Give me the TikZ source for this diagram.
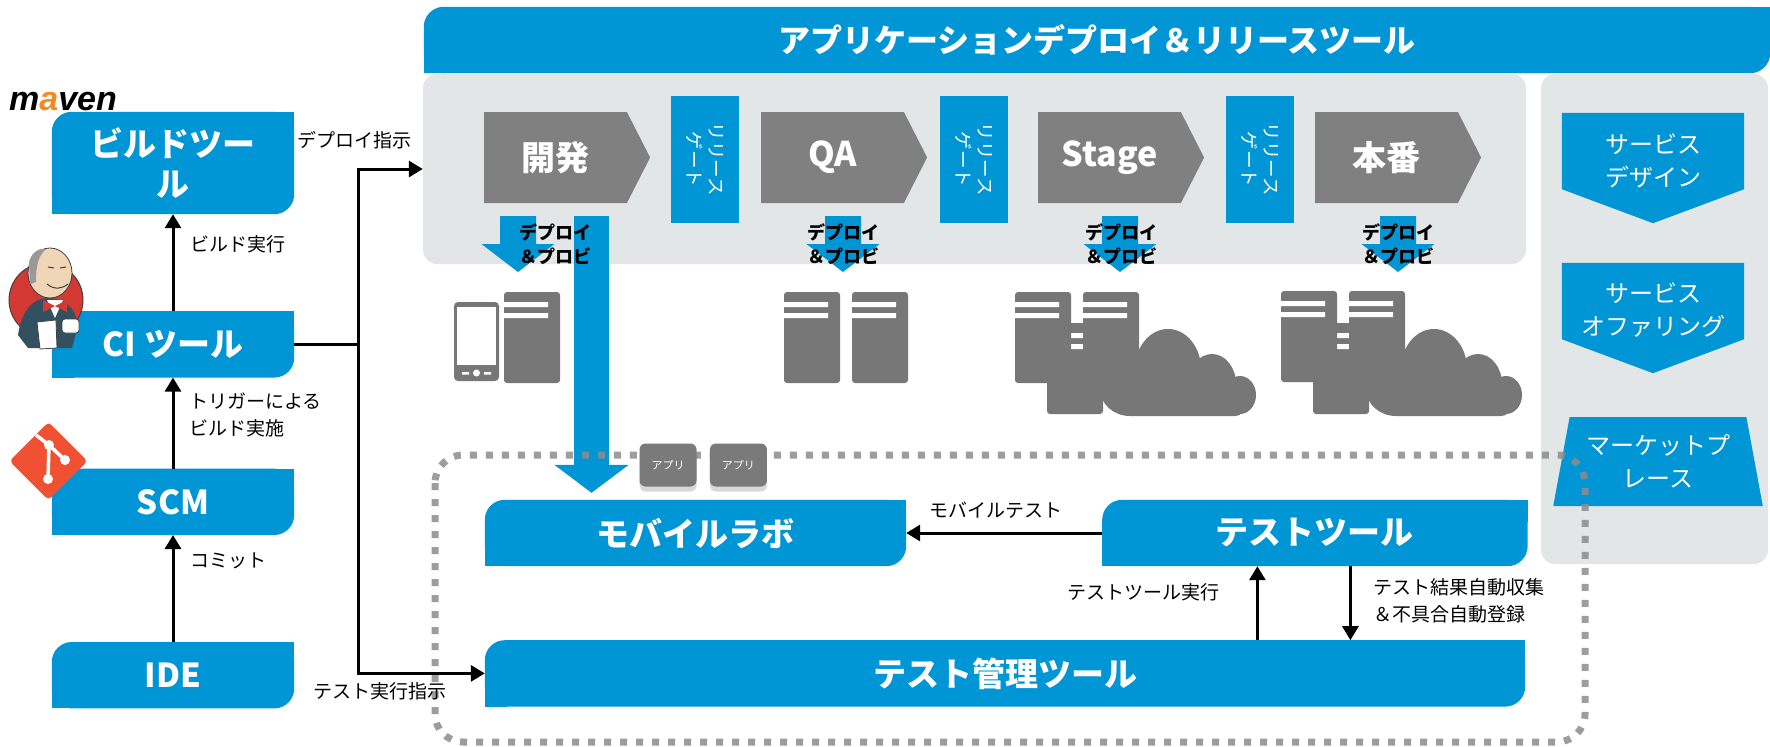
\documentclass[tikz,border=0pt]{standalone}
\usepackage{fontspec}
\setmainfont{Noto Sans CJK JP}
\newfontfamily\logofont{Liberation Sans}
\usepackage{xcolor}
\definecolor{Blue}{HTML}{0096D6}
\definecolor{Panel}{HTML}{E3E6E7}
\definecolor{StageGray}{HTML}{808080}
\definecolor{IconGray}{HTML}{777777}
\definecolor{TileGray}{HTML}{7A7A7A}
\definecolor{DotGray}{HTML}{8C8C8C}
\definecolor{MavenOrange}{HTML}{F28A1F}
\definecolor{GitOrange}{HTML}{F05133}
\definecolor{JRed}{HTML}{D33833}
\definecolor{JNavy}{HTML}{335061}
\definecolor{JSkin}{HTML}{F0D6B7}
\usepackage{tikz}
\usetikzlibrary{arrows.meta,positioning,shapes.symbols,shapes.geometric,backgrounds,shadows}

\begin{document}
\begin{tikzpicture}[x=1pt,y=-1pt,
  tag/.style={text=white,font=\bfseries\fontsize{33}{40}\selectfont,align=center,inner sep=0pt},
  tool/.style={tag,minimum width=242pt,minimum height=66pt},
  panel/.style={fill=Panel,rounded corners=14pt,inner sep=0pt},
  stage/.style={signal,signal to=east,signal from=nowhere,signal pointer angle=126,fill=StageGray,text=white,
    font=\bfseries\fontsize{34}{40}\selectfont,minimum width=166pt,minimum height=91pt,inner sep=0pt},
  gate/.style={fill=Blue,text=white,rotate=-90,align=center,font=\fontsize{18.5}{22}\selectfont,
    minimum width=127pt,minimum height=68pt,inner sep=0pt},
  svcbox/.style={minimum width=182pt,minimum height=110pt,inner sep=0pt},
  svctxt/.style={text=white,align=center,font=\fontsize{24}{33}\selectfont,inner sep=0pt},
  market/.style={trapezium,trapezium left angle=76,trapezium right angle=76,trapezium stretches=true,fill=Blue,
    text=white,align=center,font=\fontsize{24}{33}\selectfont,minimum width=210pt,minimum height=89pt,inner sep=0pt},
  deploytxt/.style={align=center,font=\bfseries\fontsize{18}{24}\selectfont,inner sep=0pt},
  apptile/.style={fill=TileGray,rounded corners=6pt,minimum width=57pt,minimum height=43pt,text=white,
    font=\fontsize{11}{13}\selectfont,drop shadow={shadow xshift=0pt,shadow yshift=-5pt,opacity=.3}},
  lbl/.style={font=\fontsize{19}{27}\selectfont,inner sep=0pt,align=left},
  arrow/.style={-{Triangle[width=16pt,length=14pt]},line width=3pt},
  bigarrow/.style={draw=Blue,line width=35pt,-{Triangle[width=73pt,length=28pt]},shorten >=7pt},
  testzone/.style={draw=DotGray,line width=7pt,dash pattern=on 7pt off 9pt,rounded corners=28pt,opacity=.85},
  deploy/.pic={\fill[Blue] (-18,0) -- (18,0) -- (18,28) -- (36.5,28) -- (0,56) -- (-36.5,28) -- (-18,28) -- cycle;},
  server/.pic={\fill[IconGray,rounded corners=3pt] (0,0) rectangle (56,91);
    \fill[white] (0,10) rectangle (44,15) (0,21) rectangle (44,26);},
  cloud/.pic={\fill[IconGray] (30,60) ellipse[x radius=30pt,y radius=27pt] (68,40) ellipse[x radius=33pt,y radius=40pt]
    (112,55) ellipse[x radius=24pt,y radius=30pt] (140,66) ellipse[x radius=16pt,y radius=19pt];
    \fill[IconGray,rounded corners=10pt] (20,55) rectangle (145,87);},
  phone/.pic={\fill[IconGray,rounded corners=4pt] (0,0) rectangle (45,79);
    \fill[white] (3,5) rectangle (42,63);
    \fill[white] (22.5,71) circle[radius=3.5pt] (8,70) rectangle (15,72.5) (30,70) rectangle (37,72.5);}
]
\useasboundingbox (0,0) rectangle (1770,747);

% panels
\node[panel,minimum width=1103pt,minimum height=190pt] (pipeline) at (974.5,169) {};
\node[panel,minimum width=227pt,minimum height=490pt] (svcpanel) at (1654.5,319) {};
\node[tag,minimum width=1346pt,minimum height=66pt,font=\bfseries\fontsize{32}{38}\selectfont] (banner) at (1097,40)
  {アプリケーションデプロイ＆リリースツール};

% build chain
\node[tool,minimum height=102pt] (build) at (173,163) {ビルドツー\\ル};
\node[tool,below=97pt of build] (ci) {CI ツール};
\node[tool,below=91pt of ci] (scm) {SCM};
\node[tool,below=107pt of scm] (ide) {IDE};

% stages and gates
\node[stage] (dev) at (555.5,157.5) {開発};
\node[stage] (qa) at (832.5,157.5) {QA};
\node[stage] (stg) at (1109.5,157.5) {Stage};
\node[stage] (prod) at (1386.5,157.5) {本番};
\node[gate] (gate1) at (705,159.5) {リリース\\ゲート};
\node[gate] (gate2) at (974,159.5) {リリース\\ゲート};
\node[gate] (gate3) at (1260,159.5) {リリース\\ゲート};

% deploy arrows
\pic at (518,216) {deploy};
\pic at (843,216) {deploy};
\pic at (1120,216) {deploy};
\pic at (1398,216) {deploy};

% environments
\pic at (454,302) {phone};
\pic at (504,292) {server};
\pic at (784,292) {server};
\pic at (852,292) {server};
\pic at (1047,323) {server};
\pic at (1015,292) {server};
\pic at (1083,292) {server};
\pic at (1100,329) {cloud};
\pic at (1313,323) {server};
\pic at (1281,291) {server};
\pic at (1349,291) {server};
\pic at (1366,329) {cloud};

% service side
\node[svcbox] (svcdesign) at (1653,168) {};
\node[svcbox] (svcoffer) at (1653,318) {};
\foreach \s in {svcdesign,svcoffer}
  \fill[Blue] (\s.north west) -- (\s.north east) -- ([yshift=34pt]\s.south east) -- (\s.south)
    -- ([yshift=34pt]\s.south west) -- cycle;
\node[svctxt] (svcdesigntxt) at ([yshift=7pt]svcdesign.center) {サービス\\デザイン};
\node[svctxt] (svcoffertxt) at ([yshift=8pt]svcoffer.center) {サービス\\オファリング};
\node[market] (market) at (1658,461.5) {マーケットプ\\レース};

% test side
\node[tool,minimum width=421pt] (lab) at (695.5,533) {モバイルラボ};
\node[tool,minimum width=425pt,right=196pt of lab] (ttool) {テストツール};
\node[tool,minimum width=1040pt,below right=74pt and 0pt of lab.south west] (tmgmt) {テスト管理ツール};

\coordinate (devout) at (591.5,216);
\draw[bigarrow] (devout) -- (devout |- lab.north);

\node[deploytxt] (dep1) at (555,244) {デプロイ\\＆プロビ};
\node[deploytxt] (dep2) at (843,244) {デプロイ\\＆プロビ};
\node[deploytxt] (dep3) at (1121,244) {デプロイ\\＆プロビ};
\node[deploytxt] (dep4) at (1398,244) {デプロイ\\＆プロビ};

\draw[testzone] (435,455) rectangle (1585,742);

\node[apptile] (app1) at (668,465) {アプリ};
\node[apptile,right=13pt of app1] (app2) {アプリ};

% connectors
\draw[arrow] (ci) -- (build);
\draw[arrow] (scm) -- (ci);
\draw[arrow] (ide) -- (scm);
\coordinate[right=64pt of ci.east] (fork);
\draw[line width=3pt] (ci) -- (fork);
\draw[arrow] (fork) |- (pipeline.west);
\draw[arrow] (fork) |- (tmgmt.west);
\draw[arrow] (ttool) -- (lab);
\coordinate (runup) at ([xshift=-57.5pt]ttool.south);
\coordinate (resultdown) at ([xshift=35.5pt]ttool.south);
\draw[arrow] (runup |- tmgmt.north) -- (runup);
\draw[arrow] (resultdown) -- (resultdown |- tmgmt.north);

\node[lbl,anchor=west] (deploycmd) at (297,140) {デプロイ指示};
\node[lbl,anchor=west] (buildrun) at (190,244) {ビルド実行};
\node[lbl,anchor=west] (trigger) at (189,415) {トリガーによる\\ビルド実施};
\node[lbl,anchor=west] (commit) at (190,561) {コミット};
\node[lbl,anchor=west] (testcmd) at (313,691) {テスト実行指示};
\node[lbl] (mobiletest) at (996,510) {モバイルテスト};
\node[lbl] (toolrun) at (1143,592) {テストツール実行};
\node[lbl,anchor=west] (collect) at (1373,601) {テスト結果自動収集\\＆不具合自動登録};

% logos
\node[anchor=base west,inner sep=0pt,font=\logofont\bfseries\itshape\fontsize{34}{34}\selectfont] (maven) at (9,110)
  {m{\color{MavenOrange}a}ven};
\fill[JRed,draw=black!75,line width=1pt] (46,300) circle[radius=37pt];
\fill[JNavy] (18,335) .. controls (22,308) and (35,298) .. (48,298) .. controls (62,298) and (76,306) .. (78,326)
  -- (72,348) -- (28,348) -- cycle;
\fill[white] (47,300) -- (63,300) -- (55,318) -- cycle;
\fill[JRed] (43,300) -- (55,306) -- (43,312) -- cycle (67,300) -- (55,306) -- (67,312) -- cycle;
\fill[JSkin,draw=black!75,line width=.8pt] (50,273) ellipse[x radius=22pt,y radius=25pt];
\fill[gray!80] (29,262) .. controls (32,251) and (40,248) .. (46,249) .. controls (38,256) and (36,266) .. (36,282)
  -- (30,284) -- cycle;
\draw[black!75,line width=1pt] (48,267) -- (54,268) (60,268) -- (66,267) (47,284) .. controls (54,290) and (62,289) .. (68,284);
\fill[white,draw=black!75,line width=.8pt] (37,322) -- (56,320) -- (57,348) -- (40,349) -- cycle;
\fill[white,draw=black!75,line width=.8pt,rounded corners=3pt] (62,319) rectangle (79,333);
\fill[GitOrange,rounded corners=4pt] (48.5,422) -- (87.5,461) -- (48.5,500) -- (9.5,461) -- cycle;
\draw[white,line width=3.5pt] (36,435) -- (49,445) -- (48,479) (49,445) -- (65,460);
\fill[white] (49,445) circle[radius=5pt] (65,460) circle[radius=5pt] (48,479) circle[radius=5pt];

% box backgrounds: rounded at top left and bottom right only
\begin{scope}[on background layer]
  \fill[white] (0,0) rectangle (1770,747);
  \foreach \n in {build,ci,scm,ide,lab,ttool,tmgmt,banner}{
    \fill[Blue,rounded corners=20pt] (\n.south west) rectangle (\n.north east);
    \fill[Blue] (\n.north east) rectangle ([xshift=-22pt,yshift=-22pt]\n.north east);
    \fill[Blue] (\n.south west) rectangle ([xshift=22pt,yshift=22pt]\n.south west);
  }
\end{scope}
\end{tikzpicture}
\end{document}
